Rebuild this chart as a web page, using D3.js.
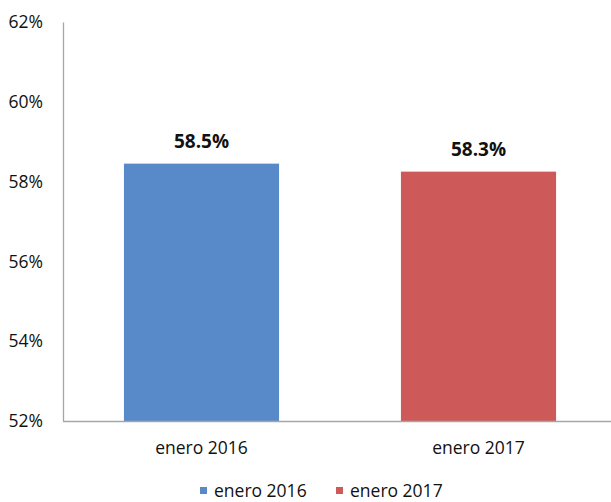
<!DOCTYPE html>
<html><head><meta charset="utf-8">
<script src="https://cdn.jsdelivr.net/npm/d3@7"></script>
<style>body{margin:0;background:#fff}svg{display:block;font-family:"Open Sans","Liberation Sans",sans-serif}</style>
</head><body><svg id="c" width="611" height="502"></svg>
<script>
const categories = ["enero 2016", "enero 2017"];
const values = [58.45, 58.25];
const valueLabels = ["58.5%", "58.3%"];
const colors = ["#5889c9", "#cd5a58"];
const yTicks = [52, 54, 56, 58, 60, 62];

const svg = d3.select("#c");
const m = {left: 63, top: 22, bottom: 421, right: 617};
const x = d3.scaleBand().domain(categories).range([m.left, m.right]).paddingInner(0.44).paddingOuter(0.22);
const y = d3.scaleLinear().domain([52, 62]).range([m.bottom, m.top]);

// axes
const ya = svg.append("g").attr("transform", `translate(${m.left},0)`)
  .call(d3.axisLeft(y).tickValues(yTicks).tickSize(0).tickPadding(0).tickFormat(d => d + "%"));
ya.select(".domain").attr("stroke", "#a6a6a6").attr("stroke-width", 1.3);
ya.selectAll("text").attr("x", -20).attr("font-size", 17.5).attr("fill", "#111").attr("font-family", "Open Sans");

svg.selectAll("rect.bar").data(categories).enter().append("rect")
  .attr("class", "bar")
  .attr("x", d => x(d)).attr("width", x.bandwidth())
  .attr("y", (d, i) => y(values[i])).attr("height", (d, i) => y(52) - y(values[i]))
  .attr("fill", (d, i) => colors[i]);

const xa = svg.append("g").attr("transform", `translate(0,${m.bottom})`)
  .call(d3.axisBottom(x).tickSize(0));
xa.select(".domain").attr("stroke", "#a6a6a6").attr("stroke-width", 1.3).attr("d", `M${m.left},0.5H611`);
xa.selectAll("text").attr("y", 33).attr("dy", 0).attr("font-size", 17.5).attr("fill", "#111").attr("font-family", "Open Sans");

svg.selectAll("text.vl").data(categories).enter().append("text")
  .attr("class", "vl")
  .attr("x", d => x(d) + x.bandwidth() / 2)
  .attr("y", (d, i) => y(values[i]) - 16)
  .attr("text-anchor", "middle").attr("font-size", 19).attr("font-weight", "bold").attr("fill", "#111")
  .text((d, i) => valueLabels[i]);

// legend
const lg = svg.append("g").attr("transform", "translate(200,497)");
const lx = [0, 136];
categories.forEach((c, i) => {
  lg.append("rect").attr("x", lx[i]).attr("y", -10).attr("width", 7).attr("height", 7).attr("fill", colors[i]);
  lg.append("text").attr("x", lx[i] + 14).attr("y", 0)
    .attr("font-size", 17.5).attr("fill", "#111").text(c);
});
</script></body></html>
